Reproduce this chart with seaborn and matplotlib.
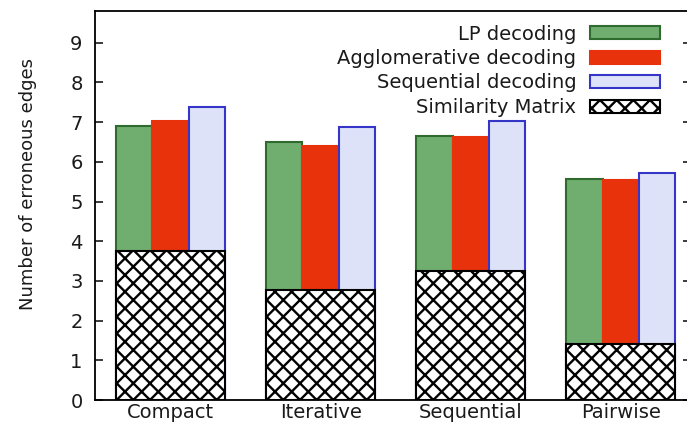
import matplotlib
matplotlib.use("Agg")
import matplotlib.pyplot as plt
from matplotlib.patches import Patch
import seaborn as sns
import pandas as pd

# Data
methods = ["Compact", "Iterative", "Sequential", "Pairwise"]
series = ["LP decoding", "Agglomerative decoding", "Sequential decoding"]
lp_vals = [6.91, 6.50, 6.65, 5.57]
agg_vals = [7.03, 6.41, 6.63, 5.53]
seq_vals = [7.38, 6.89, 7.02, 5.73]
sim_vals = [3.76, 2.77, 3.26, 1.41]

fills = ["#6fae6f", "#e8320c", "#dde2f8"]
edges = ["#2f6a2f", "#e8320c", "#3535c8"]

df = pd.DataFrame({
    "method": methods * 3,
    "series": [s for s in series for _ in methods],
    "value": lp_vals + agg_vals + seq_vals,
})
sim_df = pd.DataFrame({"method": methods, "value": sim_vals})

sns.set_style("ticks")
plt.rcParams["font.family"] = ["DejaVu Sans"]
plt.rcParams["hatch.linewidth"] = 1.7
plt.rcParams["hatch.color"] = "black"
plt.rcParams["text.color"] = "#1a1a1a"
plt.rcParams["axes.labelcolor"] = "#1a1a1a"
plt.rcParams["xtick.color"] = "#1a1a1a"
plt.rcParams["ytick.color"] = "#1a1a1a"

fig = plt.figure(figsize=(6.87, 4.28), dpi=100)
ax = fig.add_axes([0.1383, 0.0654, 0.868, 0.9089])

group_w = 0.727
sns.barplot(data=df, x="method", y="value", hue="series", order=methods,
            hue_order=series, palette=fills, saturation=1, width=group_w,
            gap=0, errorbar=None, legend=False, ax=ax, linewidth=1.5)
for cont, ec in zip(ax.containers, edges):
    for p in cont:
        p.set_edgecolor(ec)

# similarity matrix overlay
sns.barplot(data=sim_df, x="method", y="value", order=methods, color="white",
            saturation=1, width=group_w, errorbar=None, ax=ax,
            edgecolor="black", linewidth=1.5, hatch="xx")

ax.set_xlim(-0.503, 3.47)
ax.set_ylim(0, 9.8)
ax.set_yticks(range(10))
ax.set_xlabel("")
ax.set_ylabel("Number of erroneous edges", fontsize=13)
ax.yaxis.set_label_coords(-0.097, 0.554)
for s in ax.spines.values():
    s.set_visible(True)
    s.set_linewidth(1.3)
    s.set_color("black")
ax.tick_params(axis="y", direction="in", length=6, width=1.2, right=True,
               labelsize=14, pad=9)
ax.tick_params(axis="x", length=0, labelsize=14, pad=2)

handles = [Patch(facecolor=f, edgecolor=e, linewidth=1.5) for f, e in zip(fills, edges)]
handles.append(Patch(facecolor="white", edgecolor="black", linewidth=1.5, hatch="xx"))
ax.legend(handles, series + ["Similarity Matrix"], loc="upper right",
          markerfirst=False, frameon=False, fontsize=14, handlelength=3.6,
          handleheight=0.65, labelspacing=0.28, handletextpad=0.7,
          borderaxespad=0.3, bbox_to_anchor=(0.97, 1.0))

fig.savefig("out.png", dpi=100)
